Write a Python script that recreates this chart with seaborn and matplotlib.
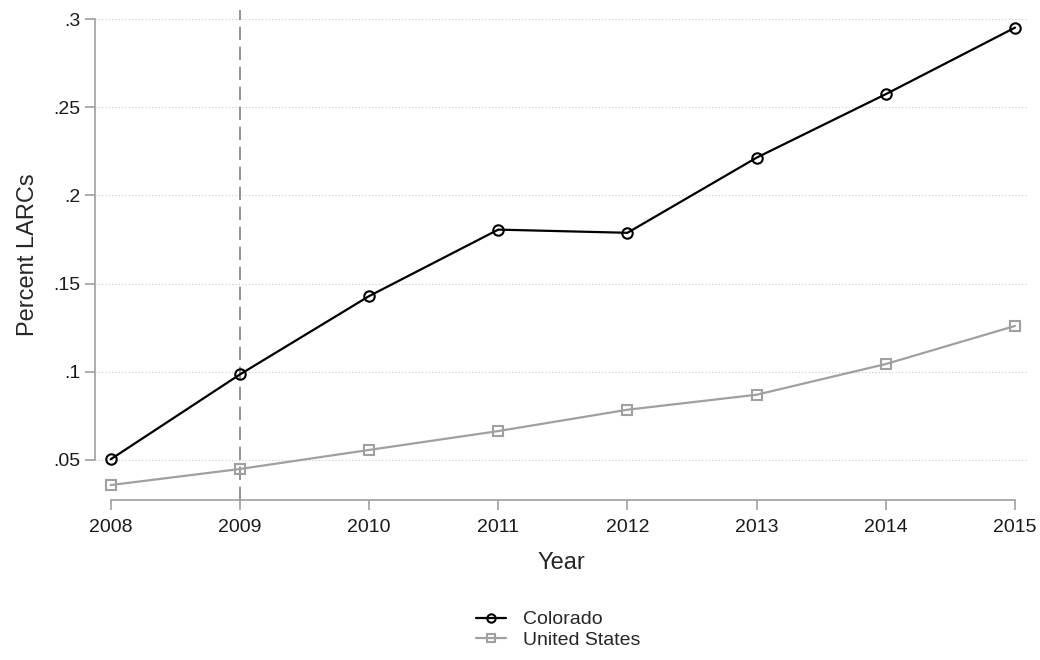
import numpy as np
import pandas as pd
import matplotlib
matplotlib.use("Agg")
import matplotlib.pyplot as plt
import seaborn as sns
from matplotlib.ticker import FuncFormatter

## data
years = [2008, 2009, 2010, 2011, 2012, 2013, 2014, 2015]
colorado = [0.0504, 0.0985, 0.1429, 0.1806, 0.1788, 0.2214, 0.2574, 0.2951]
united_states = [0.0358, 0.0449, 0.0557, 0.0664, 0.0785, 0.0870, 0.1044, 0.1260]
yticks = [0.05, 0.1, 0.15, 0.2, 0.25, 0.3]

df = pd.DataFrame({"Year": years * 2,
                   "value": colorado + united_states,
                   "series": ["Colorado"] * len(years) + ["United States"] * len(years)})

sns.set_style("white")
plt.rcParams['font.family'] = ['Liberation Sans', 'DejaVu Sans']

fig = plt.figure(figsize=(10.4, 6.6), dpi=100)
# axes box in pixels: left 95, right 1028, top 10, bottom 500
ax = fig.add_axes([95 / 1040, 1 - 500 / 660, 933 / 1040, 490 / 660])

styles = {"Colorado": ("black", "o"), "United States": ("#a0a0a0", "s")}
for name, (col, mk) in styles.items():
    sns.lineplot(data=df[df["series"] == name], x="Year", y="value", ax=ax,
                 color=col, marker=mk, markersize=7.5, markerfacecolor="none",
                 markeredgecolor=col, markeredgewidth=1.5, linewidth=1.6,
                 label=name, legend=False, zorder=3)

px_yr = 904.3 / 7
px_val = 1764.0
ax.set_xlim(2008 - 15.7 / px_yr, 2015 + 13 / px_yr)
ax.set_ylim(0.05 - 40 / px_val, 0.3 + 9 / px_val)

# horizontal dotted grid
for yv in yticks:
    ax.axhline(yv, color="#c8c8c8", linestyle=(0, (1, 2)), linewidth=0.8, zorder=1)
ax.axvline(2009, color="#808080", linestyle=(0, (8, 4)), linewidth=1.2, zorder=2)

ax.set_xticks(years)
ax.set_yticks(yticks)
ax.yaxis.set_major_formatter(FuncFormatter(lambda v, p: ("%g" % v).lstrip("0")))

for s in ["top", "right"]:
    ax.spines[s].set_visible(False)
ax.spines["left"].set_bounds(0.05, 0.3)
ax.spines["bottom"].set_bounds(2008, 2015)
for s in ["left", "bottom"]:
    ax.spines[s].set_color("#a0a0a0")
    ax.spines[s].set_linewidth(1.2)
ax.tick_params(axis="both", direction="out", length=7.5, width=1.2, color="#a0a0a0",
               labelsize=14, labelcolor="#1a1a1a", left=True, bottom=True, pad=3)
ax.tick_params(axis="x", pad=6)

ax.set_xlabel("Year", fontsize=17, labelpad=12)
ax.set_ylabel("Percent LARCs", fontsize=17, labelpad=10)

handles, labels = ax.get_legend_handles_labels()
fig.legend(handles, labels, loc="upper center", bbox_to_anchor=(0.537, 0.101),
           frameon=False, fontsize=14, handlelength=1.55, labelspacing=0.13,
           handletextpad=0.87, markerscale=0.8)

fig.savefig("out.png", dpi=100, facecolor="white")
